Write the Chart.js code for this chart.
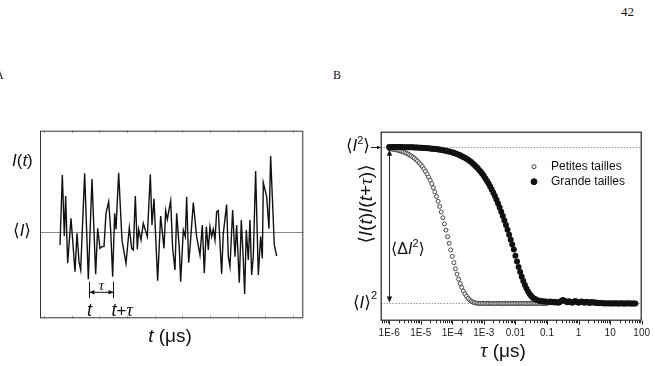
<!DOCTYPE html>
<html>
<head>
<meta charset="utf-8">
<script src="https://cdn.jsdelivr.net/npm/chart.js@4.4.0/dist/chart.umd.min.js"></script>
<style>
html, body { margin: 0; padding: 0; background: #fff; }
body { width: 655px; height: 366px; position: relative; overflow: hidden; }
.lbl { position: absolute; font-family: "Liberation Serif", "Times New Roman", serif; color: #111; }
#wrapA { position: absolute; left: 0; top: 100px; width: 330px; height: 266px; }
#wrapB { position: absolute; left: 330px; top: 100px; width: 325px; height: 266px; }
</style>
</head>
<body>
<div class="lbl" style="left:621px;top:4px;font-size:13px;">42</div>
<div class="lbl" style="left:-5px;top:68px;font-size:12px;">A</div>
<div class="lbl" style="left:333px;top:68px;font-size:12px;">B</div>
<div id="wrapA"><canvas id="chartA"></canvas></div>
<div id="wrapB"><canvas id="chartB"></canvas></div>
<script>
// Panel A: intensity trace (arbitrary time units)
var tA = [60,67,73,77,83,93,98,105,111,117,122,134,145,156,167,173,180,186,192,198,206,212,218,224,228,236,246,258,268,275,280,286,292,296,303,310,316,322,331,336,342,353,362,372,377,382,392,398,405,410,418,422,430,436,440,446,450,460,470,480,487,493,499,505,510,515,520,525,530,535,545,550,560,565,570,578,585,590,598,604,610,614,619,625,630,635,640,647,655,662,667,670,680,687,692,703,710];
var iA = [-0.40,1.70,-0.13,1.07,-0.95,0.40,-0.25,-1.20,-0.05,-0.90,-1.15,1.75,-1.43,1.58,-1.28,0.10,-0.50,-0.45,-0.45,0.55,0.90,0.05,-1.35,0.55,0.07,1.77,-0.25,-0.95,0.12,-0.50,-0.55,1.07,-0.53,0.07,-0.25,0.25,0.05,-0.15,1.72,0.20,0.99,-1.47,0.47,-0.50,0.63,0.37,0.93,-0.50,-1.15,0.55,-0.50,-1.50,0.05,-0.15,1.05,-0.93,-0.50,0.87,-0.15,-0.70,0.20,-1.25,0.15,-0.55,0.15,-0.15,0.08,-0.25,0.60,0.63,-1.27,-0.05,0.81,-0.75,-1.05,0.65,-0.75,0.20,-1.53,0.35,-0.85,-1.87,0.05,-0.85,0.35,-1.30,-0.75,1.82,-1.30,-0.15,-0.80,1.47,1.05,0.09,2.27,-0.40,-0.73];
var tickTimesA = [12,95,178,261,344,427,510,593,676,759];
var markTimesA = [146, 218];

// Panel B: correlation functions, tau in microseconds
var tauMantissa = [1,1.122,1.259,1.413,1.585,1.778,1.995,2.239,2.512,2.818,3.162,3.548,3.981,4.467,5.012,5.623,6.310,7.079,7.943,8.913];
var tauDecades = [1e-6,1e-5,1e-4,1e-3,1e-2,1e-1,1,10];
var petites = [
  1.988,1.987,1.985,1.983,1.981,1.979,1.976,1.973,1.970,1.967,
  1.963,1.958,1.953,1.948,1.941,1.934,1.927,1.918,1.909,1.898,
  1.886,1.874,1.859,1.843,1.826,1.807,1.786,1.764,1.739,1.712,
  1.683,1.652,1.619,1.584,1.547,1.508,1.468,1.426,1.384,1.342,
  1.300,1.260,1.222,1.187,1.155,1.127,1.102,1.080,1.061,1.046,
  1.033,1.023,1.015,1.009,1.005,1.003,1.001,1.000,1.000,1.001,
  1.000,0.999,1.001,1.000,1.000,1.001,0.999,1.000,1.000,1.001,
  1.000,0.999,1.000,1.001,1.000,1.000,0.999,1.001,1.000,1.000,
  1.001,1.000,0.999,1.000,1.000,1.001,1.000,0.999,1.000,1.001,
  1.000,1.000,0.999,1.001,1.000,1.000,1.001,0.999,1.000,1.000,
  1.000
];
var grande = [
  1.999,1.999,1.999,1.998,1.998,1.998,1.998,1.998,1.998,1.997,
  1.997,1.997,1.997,1.996,1.996,1.996,1.995,1.995,1.995,1.994,
  1.993,1.993,1.992,1.992,1.991,1.990,1.989,1.988,1.987,1.986,
  1.985,1.983,1.982,1.980,1.978,1.976,1.974,1.972,1.970,1.967,
  1.964,1.961,1.957,1.953,1.949,1.945,1.940,1.935,1.929,1.923,
  1.917,1.909,1.902,1.893,1.884,1.874,1.864,1.852,1.840,1.827,
  1.813,1.798,1.782,1.765,1.747,1.727,1.707,1.685,1.662,1.638,
  1.612,1.586,1.558,1.530,1.500,1.470,1.439,1.407,1.376,1.344,
  1.305,1.268,1.233,1.200,1.170,1.143,1.118,1.095,1.076,1.060,
  1.047,1.037,1.030,1.025,1.021,1.018,1.016,1.014,1.013,1.012,
  1.011,1.010,1.012,1.008,1.011,1.006,1.009,1.004,1.007,1.016,
  1.022,1.018,1.012,1.008,1.014,1.010,1.005,1.011,1.015,1.009,
  1.004,1.010,1.013,1.008,1.004,1.011,1.007,1.003,1.009,1.006,
  1.008,1.003,1.005,1.002,1.003,1.001,1.002,1.000,1.001,1.000,
  1.001,1.000,1.000,1.001,1.000,1.000,1.000,1.001,1.000,1.000,
  1.000,1.001,1.000,1.000,1.000,1.000,1.000
];
var tickValuesB = [1e-6,1e-5,1e-4,1e-3,1e-2,1e-1,1,10,100];
var tickLabelsB = ['1E-6','1E-5','1E-4','1E-3','0.01','0.1','1','10','100'];
var legendLabels = ['Petites tailles', 'Grande tailles'];

var tauB = [];
tauDecades.forEach(function(d) {
    tauMantissa.forEach(function(m) { tauB.push(m * d); });
});

var SANS = '"Liberation Sans", "DejaVu Sans", Arial, sans-serif';
var SERIF = '"Liberation Serif", "DejaVu Serif", serif';
function fnt(style, size, fam) { return style + ' ' + size + 'px ' + fam; }

// draw a run of text pieces [text, font, dy]
function drawRich(ctx, parts, x, y, align) {
    var w = 0;
    parts.forEach(function(p) { ctx.font = p[1]; w += ctx.measureText(p[0]).width; });
    var cx = align === 'center' ? x - w / 2 : (align === 'right' ? x - w : x);
    ctx.textAlign = 'left';
    ctx.textBaseline = 'middle';
    parts.forEach(function(p) {
        ctx.font = p[1];
        ctx.fillText(p[0], cx, y + (p[2] || 0));
        cx += ctx.measureText(p[0]).width;
    });
}

function arrowHead(ctx, x, y, dx, dy, size) {
    var len = Math.sqrt(dx * dx + dy * dy);
    var ux = dx / len, uy = dy / len;
    ctx.beginPath();
    ctx.moveTo(x, y);
    ctx.lineTo(x - ux * size - uy * size * 0.45, y - uy * size + ux * size * 0.45);
    ctx.lineTo(x - ux * size + uy * size * 0.45, y - uy * size - ux * size * 0.45);
    ctx.closePath();
    ctx.fill();
}

// Panel A decorations
var decorA = {
    id: 'decorA',
    beforeDatasetsDraw: function(chart) {
        var ctx = chart.ctx, a = chart.chartArea, y = chart.scales.y;
        var py = Math.round(y.getPixelForValue(0)) + 0.5;
        ctx.save();
        ctx.strokeStyle = '#8a8a8a';
        ctx.lineWidth = 1;
        ctx.beginPath();
        ctx.moveTo(a.left, py);
        ctx.lineTo(a.right, py);
        ctx.stroke();
        ctx.restore();
    },
    afterDraw: function(chart) {
        var ctx = chart.ctx, a = chart.chartArea, x = chart.scales.x, y = chart.scales.y;
        ctx.save();
        ctx.strokeStyle = '#333';
        ctx.lineWidth = 1;
        ctx.strokeRect(a.left + 0.5, a.top + 0.5, a.width - 1, a.height - 1);

        ctx.strokeStyle = '#666';
        tickTimesA.forEach(function(t) {
            var px = Math.round(x.getPixelForValue(t)) + 0.5;
            ctx.beginPath();
            ctx.moveTo(px, a.top); ctx.lineTo(px, a.top + 2);
            ctx.moveTo(px, a.bottom); ctx.lineTo(px, a.bottom - 2);
            ctx.stroke();
        });

        // t / t+tau bracket
        var x1 = Math.round(x.getPixelForValue(markTimesA[0])) + 0.5;
        var x2 = Math.round(x.getPixelForValue(markTimesA[1])) + 0.5;
        var yTop = y.getPixelForValue(-1.5), yBot = y.getPixelForValue(-2.0), yArr = y.getPixelForValue(-1.82);
        ctx.strokeStyle = '#111';
        ctx.fillStyle = '#111';
        ctx.beginPath();
        ctx.moveTo(x1, yTop); ctx.lineTo(x1, yBot);
        ctx.moveTo(x2, yTop); ctx.lineTo(x2, yBot);
        ctx.moveTo(x1, yArr); ctx.lineTo(x2, yArr);
        ctx.stroke();
        arrowHead(ctx, x1, yArr, -1, 0, 5);
        arrowHead(ctx, x2, yArr, 1, 0, 5);
        drawRich(ctx, [['τ', fnt('italic', 15, SERIF)]], (x1 + x2) / 2, y.getPixelForValue(-1.63), 'center');
        drawRich(ctx, [['t', fnt('italic', 18, SANS)]], x1, 211, 'center');
        drawRich(ctx, [['t', fnt('italic', 18, SANS)], ['+', fnt('normal', 17, SANS)], ['τ', fnt('italic', 18, SERIF)]], x2 - 2, 211, 'left');

        // axis texts
        drawRich(ctx, [['I', fnt('italic', 17, SANS)], ['(', fnt('normal', 17, SANS)], ['t', fnt('italic', 17, SANS)], [')', fnt('normal', 17, SANS)]], 12, 61, 'left');
        drawRich(ctx, [['⟨', fnt('normal', 17, SANS)], ['I', fnt('italic', 17, SANS)], ['⟩', fnt('normal', 17, SANS)]], 13, y.getPixelForValue(0), 'left');
        drawRich(ctx, [['t', fnt('italic', 19, SANS)], [' (μs)', fnt('normal', 19, SANS)]], 170, 237, 'center');
        ctx.restore();
    }
};

// Panel B decorations
var decorB = {
    id: 'decorB',
    beforeDatasetsDraw: function(chart) {
        var ctx = chart.ctx, a = chart.chartArea, y = chart.scales.y;
        ctx.save();
        ctx.strokeStyle = '#666';
        ctx.lineWidth = 1;
        ctx.setLineDash([1, 2]);
        [2, 1].forEach(function(v) {
            var py = Math.round(y.getPixelForValue(v)) + 0.5;
            ctx.beginPath();
            ctx.moveTo(a.left, py);
            ctx.lineTo(a.right, py);
            ctx.stroke();
        });
        ctx.restore();
    },
    afterDraw: function(chart) {
        var ctx = chart.ctx, a = chart.chartArea, x = chart.scales.x, y = chart.scales.y;
        ctx.save();
        ctx.strokeStyle = '#222';
        ctx.fillStyle = '#111';
        ctx.lineWidth = 1.2;
        ctx.strokeRect(a.left + 0.5, a.top + 0.5, a.width - 1, a.height - 1);

        // log ticks under the axis
        ctx.lineWidth = 1;
        x.ticks.forEach(function(t) {
            var v = t.value;
            var e = Math.floor(Math.log10(v) + 1e-9);
            var s = v / Math.pow(10, e);
            if (Math.abs(s - Math.round(s)) > 0.01) return;
            var len = Math.abs(s - 1) < 0.01 ? 4 : 2.5;
            var px = Math.round(x.getPixelForValue(v)) + 0.5;
            ctx.beginPath();
            ctx.moveTo(px, a.bottom);
            ctx.lineTo(px, a.bottom + len);
            ctx.stroke();
        });

        var yTop = y.getPixelForValue(2), yBase = y.getPixelForValue(1);
        var sup = fnt('normal', 11, SANS), big = fnt('normal', 17, SANS), bigI = fnt('italic', 17, SANS);
        drawRich(ctx, [['⟨', big], ['I', bigI], ['2', sup, -6], ['⟩', big]], 40, yTop, 'right');
        ctx.beginPath();
        ctx.moveTo(41, Math.round(yTop) + 0.5);
        ctx.lineTo(49, Math.round(yTop) + 0.5);
        ctx.stroke();
        arrowHead(ctx, 51, Math.round(yTop) + 0.5, 1, 0, 4);
        drawRich(ctx, [['⟨', big], ['I', bigI], ['⟩', big], ['2', sup, -7]], 47, yBase, 'right');

        // double arrow for <dI^2>
        var xa = Math.round(x.getPixelForValue(tauB[0])) + 0.5;
        ctx.beginPath();
        ctx.moveTo(xa, yTop + 4);
        ctx.lineTo(xa, yBase - 2);
        ctx.stroke();
        arrowHead(ctx, xa, yTop + 3, 0, -1, 6);
        arrowHead(ctx, xa, yBase - 1, 0, 1, 6);
        drawRich(ctx, [['⟨', fnt('normal', 16, SANS)], ['Δ', fnt('normal', 16, SANS)], ['I', fnt('italic', 16, SANS)], ['2', sup, -6], ['⟩', fnt('normal', 16, SANS)]], 61, 150, 'left');

        // rotated y title
        ctx.save();
        ctx.translate(37, 104);
        ctx.rotate(-Math.PI / 2);
        var f19 = fnt('normal', 19, SANS), i19 = fnt('italic', 19, SANS);
        drawRich(ctx, [['⟨', f19], ['I', i19], ['(', f19], ['t', i19], [')', f19], ['I', i19], ['(', f19], ['t', i19], ['+', f19], ['τ', fnt('italic', 19, SERIF)], [')', f19], ['⟩', f19]], 0, 0, 'center');
        ctx.restore();

        drawRich(ctx, [['τ', fnt('italic', 20, SERIF)], [' (μs)', fnt('normal', 19, SANS)]], 173, 252, 'center');

        // legend
        var ds = chart.data.datasets;
        [[ds[1], 66.7], [ds[0], 81.7]].forEach(function(item) {
            var d = item[0];
            ctx.beginPath();
            ctx.arc(204, item[1], d.pointRadius, 0, Math.PI * 2);
            ctx.fillStyle = d.backgroundColor;
            ctx.fill();
            ctx.lineWidth = d.borderWidth || 1;
            ctx.strokeStyle = d.borderColor;
            ctx.stroke();
            ctx.fillStyle = '#111';
            drawRich(ctx, [[d.label, fnt('normal', 12, SANS)]], 221, item[1], 'left');
        });
        ctx.restore();
    }
};

Chart.defaults.font.family = SANS;
Chart.defaults.color = '#222';

new Chart(document.getElementById('chartA'), {
    type: 'line',
    data: {
        datasets: [{
            data: tA.map(function(t, i) { return { x: t, y: iA[i] }; }),
            borderColor: '#111',
            borderWidth: 1.4,
            pointRadius: 0,
            tension: 0,
            fill: false
        }]
    },
    options: {
        responsive: true,
        maintainAspectRatio: false,
        animation: false,
        devicePixelRatio: 1,
        layout: { padding: { left: 40, top: 30.7, right: 26.7, bottom: 47.7 } },
        plugins: { legend: { display: false }, tooltip: { enabled: false } },
        scales: {
            x: { type: 'linear', min: 0, max: 790, display: false },
            y: { type: 'linear', min: -2.6, max: 3.03, display: false }
        }
    },
    plugins: [decorA]
});

new Chart(document.getElementById('chartB'), {
    type: 'scatter',
    data: {
        datasets: [{
            label: legendLabels[1],
            data: grande.map(function(v, i) { return { x: tauB[i], y: v }; }),
            pointRadius: 3,
            backgroundColor: '#111',
            borderColor: '#111',
            borderWidth: 0
        }, {
            label: legendLabels[0],
            data: petites.map(function(v, i) { return { x: tauB[i], y: v }; }),
            pointRadius: 2,
            backgroundColor: '#fff',
            borderColor: '#333',
            borderWidth: 0.9
        }]
    },
    options: {
        responsive: true,
        maintainAspectRatio: false,
        animation: false,
        devicePixelRatio: 1,
        layout: { padding: { left: 50.7, top: 31.7, right: 13.3, bottom: 0 } },
        plugins: { legend: { display: false }, tooltip: { enabled: false } },
        scales: {
            x: {
                type: 'logarithmic',
                min: 5.4e-7,
                max: 100,
                afterFit: function(s) { s.height = 45.3; },
                border: { display: false },
                grid: { drawOnChartArea: false, color: 'rgba(0,0,0,0)', tickLength: 4 },
                ticks: {
                    autoSkip: false,
                    maxRotation: 0,
                    padding: 3,
                    font: { size: 10 },
                    color: '#222',
                    callback: function(v) {
                        for (var i = 0; i < tickValuesB.length; i++) {
                            if (Math.abs(Math.log10(v) - Math.log10(tickValuesB[i])) < 1e-6) return tickLabelsB[i];
                        }
                        return '';
                    }
                }
            },
            y: { type: 'linear', min: 0.89, max: 2.096, display: false }
        }
    },
    plugins: [decorB]
});
</script>
</body>
</html>
